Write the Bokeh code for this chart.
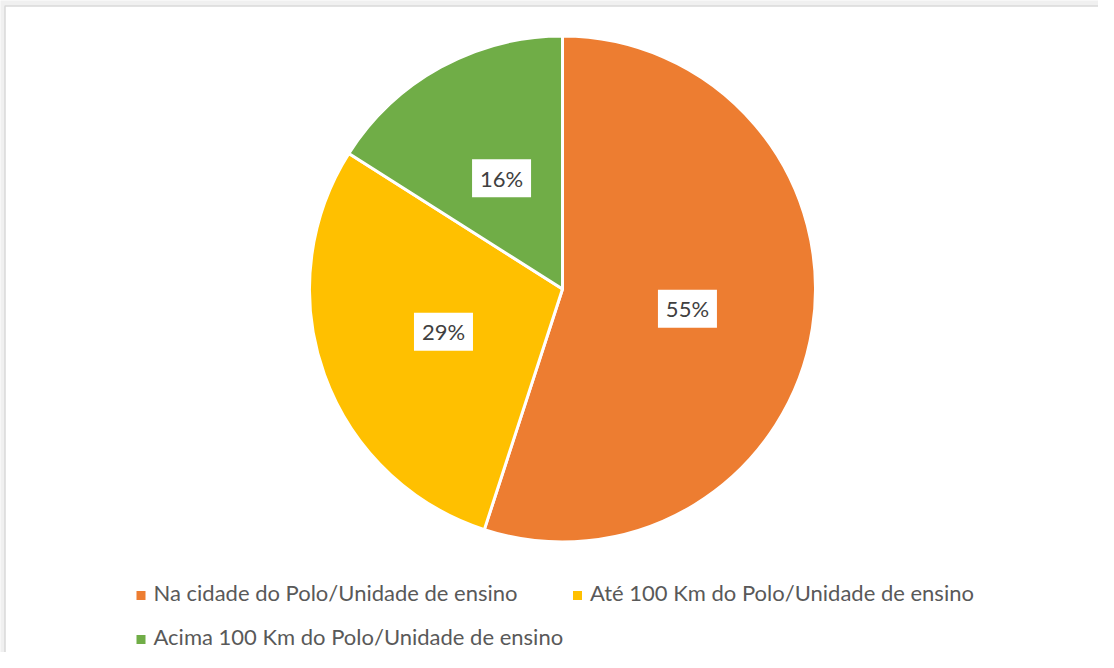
import numpy as np
from bokeh.plotting import figure
from bokeh.models import Range1d, ColumnDataSource
from bokeh.core.properties import value
from bokeh.embed import file_html
from bokeh.resources import INLINE

# ---- data ----
categories = ["Na cidade do Polo/Unidade de ensino",
              "Até 100 Km do Polo/Unidade de ensino",
              "Acima 100 Km do Polo/Unidade de ensino"]
shares = [55, 29, 16]
colors = ["#ED7D31", "#FFC000", "#70AD47"]
labels = ["55%", "29%", "16%"]

# ---- layout (image pixel coords, y measured from top) ----
W, H = 1098, 652
TOP = 668
def Y(py):
    return TOP - py

cx, cy, R = 562, 288.5, 253

p = figure(width=W, height=H, output_backend="svg", toolbar_location=None,
           x_range=Range1d(0, W), y_range=Range1d(TOP - H, TOP),
           min_border=0, outline_line_color=None)
p.axis.visible = False
p.grid.visible = False
p.background_fill_color = "#f0f0f0"
p.border_fill_color = "#f0f0f0"

# chart area (white with light border on top/left)
p.quad(left=[4.5], right=[W + 50], top=[Y(5.5)], bottom=[Y(H + 50)],
       fill_color="white", line_color="#d9d9d9", line_width=1.5)

vals = np.array(shares, dtype=float)
frac = vals / vals.sum()
cum = np.concatenate([[0], np.cumsum(frac)])
start = np.pi / 2 - 2 * np.pi * cum[:-1]
end = np.pi / 2 - 2 * np.pi * cum[1:]
mid = (start + end) / 2

src = ColumnDataSource(dict(x=[cx] * 3, y=[Y(cy)] * 3, s=start, e=end, c=colors))
p.wedge(x="x", y="y", radius=R, radius_units="screen", start_angle="s", end_angle="e",
        direction="clock", fill_color="c", line_color="white", line_width=3, source=src)

lx = cx + 0.5 * R * np.cos(mid)
ly = Y(cy) + 0.5 * R * np.sin(mid)
lsrc = ColumnDataSource(dict(x=lx, y=ly, t=labels))
p.rect(x="x", y="y", width=59, height=38, width_units="screen", height_units="screen",
       fill_color="white", line_color=None, source=lsrc)
p.text(x="x", y="y", text="t", text_align="center", text_baseline="middle",
       text_font=value("Lato"), text_font_size="22px", text_color="#404040", source=lsrc)

# ---- legend ----
leg_pos = [(140.5, 595), (577, 595), (140.5, 639)]
lgx = [q[0] for q in leg_pos]
lgy = [Y(q[1]) for q in leg_pos]
gsrc = ColumnDataSource(dict(x=lgx, y=lgy, c=colors, tx=[v + 12.5 for v in lgx],
                             ty=[v + 3 for v in lgy], t=categories))
p.rect(x="x", y="y", width=9, height=9, width_units="screen", height_units="screen",
       fill_color="c", line_color=None, source=gsrc)
p.text(x="tx", y="ty", text="t", text_align="left", text_baseline="middle",
       text_font=value("Lato"), text_font_size="22px", text_color="#595959", source=gsrc)

open("out.html", "w").write(file_html(p, INLINE))
